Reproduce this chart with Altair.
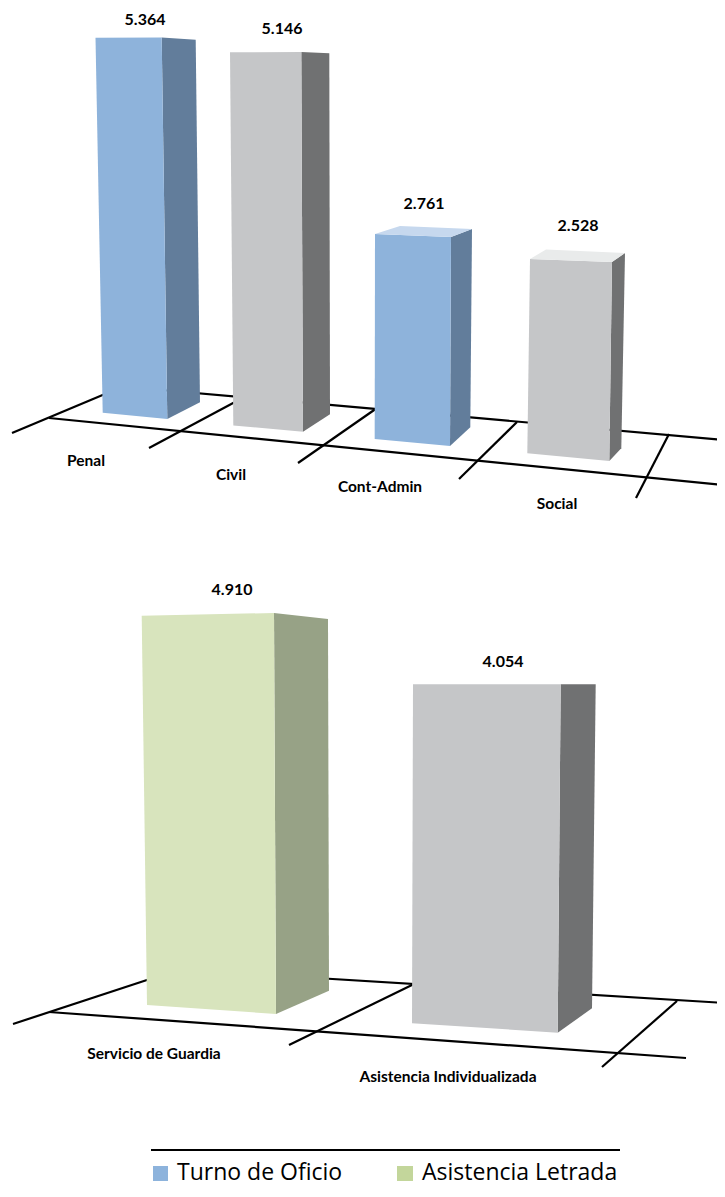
import altair as alt
import pandas as pd

# ---- chart values ----
CATEGORIES = ["Penal", "Civil", "Cont-Admin", "Social", "Servicio de Guardia", "Asistencia Individualizada"]
VALUES = [5.364, 5.146, 2.761, 2.528, 4.910, 4.054]
VALUE_LABELS = ["5.364", "5.146", "2.761", "2.528", "4.910", "4.054"]
SERIES = ["Turno de Oficio", "Civil", "Turno de Oficio", "Civil", "Asistencia Letrada", "Civil"]
LEGEND = ["Turno de Oficio", "Asistencia Letrada"]

# ---- styles ----
FRONT = {"Turno de Oficio": "#8EB3DB", "Civil": "#C5C6C8", "Asistencia Letrada": "#D8E4BD"}
SIDE = {"Turno de Oficio": "#627D9B", "Civil": "#707172", "Asistencia Letrada": "#97A286"}
TOP = {"Turno de Oficio": "#C6D8EE", "Civil": "#E9EBEB", "Asistencia Letrada": "#E9F0D8"}
SWATCH = {"Turno de Oficio": "#8DB3DC", "Asistencia Letrada": "#C3D69B"}
NARROW = "Lato"

# ---- perspective layout: per slot, floor corner and its rise per value unit ----
# corner = (floor x, floor y, dx per unit, dy per unit)
SLOTS = [
    {"fl": (102.7, 412.7, -1.342, -69.91), "fr": (167.3, 419.0, -1.044, -71.12), "br": (200.0, 402.3, -0.802, -67.60)},
    {"fl": (233.3, 425.5, -0.641, -72.52), "fr": (303.0, 431.7, -0.330, -73.79), "br": (330.0, 414.3, -0.136, -70.15)},
    {"fl": (374.7, 439.0, 0.109, -74.25), "fr": (450.0, 446.0, 0.362, -75.70), "br": (470.3, 427.3, 0.616, -71.82),
     "bl": (396.0, 421.0, 1.449, -70.63)},
    {"fl": (527.3, 453.3, 1.068, -76.86), "fr": (609.3, 461.0, 1.068, -78.72), "br": (621.3, 448.3, 1.464, -77.25),
     "bl": (543.0, 435.0, 1.187, -73.38)},
    {"fl": (147.0, 1005.0, -1.079, -79.29), "fr": (276.0, 1014.0, -0.407, -81.67), "br": (329.0, 990.7, -0.204, -75.70)},
    {"fl": (412.0, 1023.3, 0.247, -83.62), "fr": (557.7, 1032.7, 0.740, -85.94), "br": (592.0, 1008.3, 0.913, -79.92)},
]
VALUE_POS = [(145, 20), (282, 29), (424, 204), (578, 226), (232, 590), (503, 662)]
CATEGORY_POS = [(86, 461), (231, 475), (380, 487), (557, 504), (154, 1054), (448, 1077)]
FLOOR_LINES = [
    (150, 389, 725, 440), (49, 418, 723, 485), (12, 433, 105, 394), (149, 448, 235, 402),
    (298, 463, 377, 408), (459, 479, 517, 422), (636, 498, 669, 434),
    (300, 977, 725, 1003), (49, 1012, 686, 1058), (13, 1024, 150, 979),
    (289, 1045, 414, 984), (602, 1067, 677, 1001),
    (151, 1150, 620, 1150),
]
SWATCH_POS = [(153, 1166, 168, 1181), (397, 1166, 413, 1181)]
LEGEND_TEXT_POS = [(177, 1173), (422, 1173)]

# The plot area is 709 wide so that the page does not overflow its window.
XS = alt.Scale(domain=[8, 717], range=[0, 709], nice=False, zero=False)
YS = alt.Scale(domain=[8, 1189], range=[0, 1181], nice=False, zero=False)


def X(f, **k):
    return alt.X(f, type="quantitative", scale=XS, axis=None, **k)


def Y(f, **k):
    return alt.Y(f, type="quantitative", scale=YS, axis=None, **k)


def corner(slot, name, value, top):
    x, y, dx, dy = slot[name]
    return (x + dx * value, y + dy * value) if top else (x, y)


rows = []


def add_face(pid, fill, pts):
    for k, (x, y) in enumerate(pts):
        rows.append({"pid": pid, "fill": fill, "k": k, "x": x, "y": y})


for i, (slot, v, s) in enumerate(zip(SLOTS, VALUES, SERIES)):
    add_face(f"{i}s", SIDE[s], [corner(slot, "fr", v, True), corner(slot, "br", v, True),
                                corner(slot, "br", v, False), corner(slot, "fr", v, False)])
    add_face(f"{i}f", FRONT[s], [corner(slot, "fl", v, True), corner(slot, "fr", v, True),
                                 corner(slot, "fr", v, False), corner(slot, "fl", v, False)])
    if "bl" in slot:
        add_face(f"{i}t", TOP[s], [corner(slot, "fl", v, True), corner(slot, "bl", v, True),
                                   corner(slot, "br", v, True), corner(slot, "fr", v, True)])
faces = pd.DataFrame(rows)

lines = pd.DataFrame(FLOOR_LINES, columns=["x", "y", "x2", "y2"])
val_df = pd.DataFrame({"t": VALUE_LABELS, "x": [p[0] for p in VALUE_POS], "y": [p[1] for p in VALUE_POS]})
cat_df = pd.DataFrame({"t": CATEGORIES, "x": [p[0] for p in CATEGORY_POS], "y": [p[1] for p in CATEGORY_POS]})
sw_df = pd.DataFrame(SWATCH_POS, columns=["x", "y", "x2", "y2"])
sw_df["fill"] = [SWATCH[n] for n in LEGEND]
leg_df = pd.DataFrame({"t": LEGEND, "x": [p[0] for p in LEGEND_TEXT_POS], "y": [p[1] for p in LEGEND_TEXT_POS]})

line_layer = alt.Chart(lines).mark_rule(color="black", strokeWidth=2.2, clip=True).encode(
    x=X("x"), y=Y("y"), x2="x2:Q", y2="y2:Q")
face_layer = alt.Chart(faces).mark_line(filled=True, strokeWidth=0, interpolate="linear").encode(
    x=X("x"), y=Y("y"), order="k:Q", detail="pid:N", fill=alt.Fill("fill:N", scale=None))
val_layer = alt.Chart(val_df).mark_text(font=NARROW, fontWeight="bold", fontSize=16, align="center",
                                        baseline="middle", color="black").encode(x=X("x"), y=Y("y"), text="t:N")
cat_layer = alt.Chart(cat_df).mark_text(font=NARROW, fontWeight="bold", fontSize=15.5, align="center",
                                        baseline="middle", color="black").encode(x=X("x"), y=Y("y"), text="t:N")
sw_layer = alt.Chart(sw_df).mark_rect().encode(
    x=X("x"), y=Y("y"), x2="x2:Q", y2="y2:Q", fill=alt.Fill("fill:N", scale=None))
leg_layer = alt.Chart(leg_df).mark_text(font="Open Sans", fontSize=23, align="left", baseline="middle",
                                        color="black").encode(x=X("x"), y=Y("y"), text="t:N")

chart = alt.layer(line_layer, face_layer, val_layer, cat_layer, sw_layer, leg_layer).properties(
    width=709, height=1181, padding=0, autosize=alt.AutoSizeParams(type="none"), background="white"
).configure_view(stroke=None)

chart.save("out.html", embed_options={"renderer": "svg", "actions": False})
